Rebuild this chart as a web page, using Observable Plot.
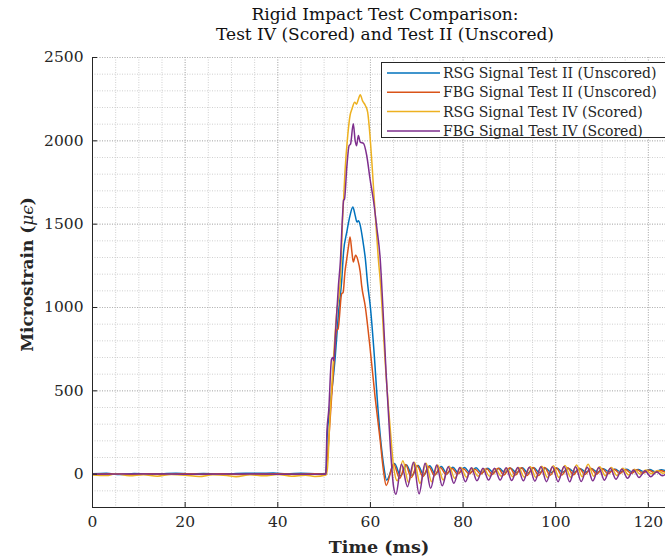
<!DOCTYPE html>
<html><head><meta charset="utf-8">
<script src="https://cdn.jsdelivr.net/npm/d3@7"></script>
<script src="https://cdn.jsdelivr.net/npm/@observablehq/plot@0.6"></script>
<style>body{margin:0;background:#fff;}</style>
</head><body><div id="chart"></div>
<script>
const seriesNames = ["RSG Signal Test II (Unscored)", "FBG Signal Test II (Unscored)", "RSG Signal Test IV (Scored)", "FBG Signal Test IV (Scored)"];
const seriesColors = ["#0072BD", "#D95319", "#EDB120", "#7E2F8E"];
const titleLines = ["Rigid Impact Test Comparison:", "Test IV (Scored) and Test II (Unscored)"];
const xLabel = "Time (ms)";
const yLabelMain = "Microstrain (";
const yLabelSym = "\u03bc\u03f5";
const xTicks = [0, 20, 40, 60, 80, 100, 120];
const yTicks = [0, 500, 1000, 1500, 2000, 2500];
const xDomain = [0, 123.7];
const yDomain = [-200, 2500];

// [time ms, microstrain]
const rsgII = [[0,2],[3,5],[6,-2],[9,4],[12,0],[15,3],[18,6],[21,1],[24,4],[27,0],[30,3],[33,6],[36,5],[39,7],[42,2],[45,5],[48,3],[50.3,2],
[50.5,60],[50.6,200],[51.3,404],[52.4,703],[53.1,965],[53.8,1163],[54.2,1333],[54.9,1453],[55.6,1553],[56.2,1603],[56.7,1553],[57.1,1513],[57.4,1520],[57.8,1493],[58.3,1413],[58.9,1293],[59.4,1140],[60.0,1000],[60.7,763],[61.7,365],[62.8,64],[63.5,-36],
[65.2,64],[66.5,-10],[67.8,55],[69.0,-8],[70.3,52],[71.5,-5],[72.8,50],[74.0,0],[75.3,46],[76.5,4],[77.8,42],[79.0,6],[80.3,40],[81.5,8],[82.8,38],[84.0,8],[85.3,36],[86.5,10],[87.8,35],[89.0,10],[90.3,36],[91.5,8],[92.8,38],[94.0,6],[95.3,38],[96.5,8],[97.8,36],[99.0,10],[100.3,35],[101.5,12],[102.8,34],[104.0,12],[105.3,33],[106.5,12],[107.8,32],[109.0,12],[110.3,32],[111.5,14],[112.8,30],[114.0,14],[115.3,30],[116.5,14],[117.8,28],[119.0,14],[120.3,28],[121.5,15],[122.8,27],[124,18]];

const fbgII = [[0,0],[4,3],[8,-2],[12,2],[16,-1],[20,3],[24,0],[28,2],[32,-2],[36,1],[40,3],[44,-1],[48,2],[50.3,0],
[50.6,60],[51.3,330],[52.0,620],[52.7,863],[53.0,870],[53.8,1083],[54.1,1090],[54.5,1213],[54.9,1293],[55.3,1373],[55.6,1423],[56.0,1333],[56.3,1273],[56.8,1313],[57.3,1283],[57.8,1213],[58.1,1133],[58.9,1003],[59.9,763],[61.0,464],[62.1,204],[62.8,24],[63.4,-68],
[65.0,62],[66.3,-25],[67.6,58],[68.8,-20],[70.1,52],[71.3,-15],[72.6,46],[73.8,-8],[75.1,40],[76.3,-2],[77.6,36],[78.8,0],[80.1,32],[81.3,2],[82.6,30],[83.8,0],[85.1,32],[86.3,-2],[87.6,35],[88.8,-5],[90.1,38],[91.3,-5],[92.6,38],[93.8,-8],[95.1,40],[96.3,-8],[97.6,40],[98.8,-6],[100.1,38],[101.3,-5],[102.6,38],[103.8,-4],[105.1,36],[106.3,-2],[107.6,35],[108.8,0],[110.1,32],[111.3,2],[112.6,30],[113.8,4],[115.1,28],[116.3,5],[117.6,26],[118.8,6],[120.1,25],[121.3,8],[122.6,22],[123.8,10]];

const rsgIV = [[0,-5],[3,-8],[5,2],[8,-10],[11,-3],[14,-12],[17,-2],[20,-6],[23,-14],[26,-4],[29,-8],[31,-15],[34,-3],[37,-10],[40,-2],[43,-12],[46,-6],[48,-14],[50.4,-5],
[50.7,30],[51.3,365],[52.0,683],[52.7,963],[53.5,1163],[54.0,1535],[54.5,1812],[55.1,2032],[55.6,2152],[56.0,2190],[56.6,2232],[57.0,2220],[57.4,2250],[57.8,2276],[58.3,2240],[58.9,2212],[59.4,2172],[59.9,2032],[60.4,1834],[61.0,1573],[61.7,1295],[62.2,1133],[63.2,665],[64.3,264],[65.0,44],[65.8,-40],
[67.0,80],[68.2,-50],[69.5,72],[70.7,-55],[72.0,65],[73.2,-45],[74.5,55],[75.7,-35],[77.0,48],[78.2,-25],[79.5,40],[80.7,-18],[82.0,35],[83.2,-12],[84.5,32],[85.7,-12],[87.0,32],[88.2,-12],[89.5,35],[90.7,-15],[92.0,40],[93.2,-18],[94.5,45],[95.7,-20],[97.0,48],[98.2,-20],[99.5,50],[100.7,-20],[102.0,52],[103.2,-18],[104.5,55],[105.7,-15],[107.0,60],[108.2,-12],[109.5,45],[110.7,-10],[112.0,40],[113.2,-8],[114.5,35],[115.7,-5],[117.0,30],[118.2,0],[119.5,25],[120.7,2],[122.0,22],[123.2,5],[124,15]];

const fbgIV = [[0,0],[10,1],[20,0],[30,1],[40,0],[50.3,0],
[50.4,5],[50.6,250],[51.0,384],[51.6,690],[51.9,700],[52.1,680],[52.4,820],[53.1,1133],[53.5,1273],[54.0,1560],[54.2,1643],[54.4,1650],[54.9,1842],[55.4,1972],[55.7,1980],[56.3,2102],[56.7,2002],[57.0,1970],[57.4,2032],[57.8,1992],[58.5,1985],[59.2,1912],[59.9,1774],[60.7,1633],[61.4,1474],[62.1,1295],[62.6,1050],[63.4,600],[64.3,164],[65.0,-76],[65.5,-120],
[66.7,60],[68.0,-75],[69.3,72],[70.5,-118],[71.8,65],[73.0,-85],[74.3,55],[75.5,-70],[76.8,45],[78.0,-55],[79.3,40],[80.5,-45],[81.8,38],[83.0,-40],[84.3,35],[85.5,-35],[86.8,35],[88.0,-35],[89.3,38],[90.5,-38],[91.8,40],[93.0,-40],[94.3,42],[95.5,-42],[96.8,45],[98.0,-45],[99.3,45],[100.5,-45],[101.8,46],[103.0,-46],[104.3,45],[105.5,-44],[106.8,42],[108.0,-40],[109.3,40],[110.5,-36],[111.8,35],[113.0,-30],[114.3,30],[115.5,-25],[116.8,25],[118.0,-20],[119.3,20],[120.5,-15],[121.8,15],[123.0,-10],[124,5]];

const allSeries = [rsgII, fbgII, rsgIV, fbgIV];
const table = [];
allSeries.forEach((arr, i) => arr.forEach(([t, v]) => table.push({t, v, s: seriesNames[i]})));

const FONT = "DejaVu Serif";
const INK = "#262626";

const plot = Plot.plot({
  width: 665, height: 558,
  marginLeft: 92, marginRight: 0, marginTop: 57, marginBottom: 51,
  x: {domain: xDomain},
  y: {domain: yDomain},
  color: {domain: seriesNames, range: seriesColors},
  style: {fontFamily: FONT, fontSize: "15px", color: INK, background: "white"},
  marks: [
    Plot.gridX(d3.range(0, 125, 5), {stroke: "#c4c4c4", strokeOpacity: 1, strokeDasharray: "1,1.5", strokeWidth: 0.8}),
    Plot.gridY(d3.range(-200, 2501, 100), {stroke: "#c4c4c4", strokeOpacity: 1, strokeDasharray: "1,1.5", strokeWidth: 0.8}),
    Plot.gridX(xTicks, {stroke: "#b0b0b0", strokeOpacity: 1, strokeDasharray: "1,1.5", strokeWidth: 0.9}),
    Plot.gridY(yTicks, {stroke: "#b0b0b0", strokeOpacity: 1, strokeDasharray: "1,1.5", strokeWidth: 0.9}),
    Plot.line(table, {x: "t", y: "v", z: "s", stroke: "s", strokeWidth: 1.5, curve: "monotone-x", clip: true}),
    Plot.ruleX([xDomain[0]], {stroke: INK, strokeWidth: 1}),
    Plot.ruleY([yDomain[0]], {stroke: INK, strokeWidth: 1}),
    Plot.axisX(xTicks, {tickSize: -5, tickPadding: 13, label: null, tickFormat: d => String(d), stroke: INK, fill: INK, fontSize: 15.5}),
    Plot.axisY(yTicks, {tickSize: -5, tickPadding: 14, label: null, tickFormat: d => String(d), stroke: INK, fill: INK, fontSize: 15.5}),
    Plot.text([xLabel], {text: d => d, frameAnchor: "bottom", lineAnchor: "middle", dy: 40, fontWeight: "bold", fontSize: 17.5, fill: INK}),
    Plot.text([yLabelMain + yLabelSym + ")"], {text: d => d, frameAnchor: "left", textAnchor: "middle", lineAnchor: "middle", rotate: -90, dx: -65, dy: -8, fontWeight: "bold", fontSize: 17, fill: INK}),
    Plot.text([titleLines.join("\n")], {text: d => d, frameAnchor: "top", textAnchor: "middle", lineAnchor: "middle", dy: -34, dx: 6, fontSize: 17, lineHeight: 1.2, fill: "#111"})
  ]
});

const svg = d3.select(plot);
// italic symbol in y label
svg.selectAll("text").filter(function() { return this.textContent === yLabelMain + yLabelSym + ")"; })
  .each(function() {
    const t = d3.select(this);
    t.text(null);
    t.append("tspan").text(yLabelMain);
    t.append("tspan").attr("font-style", "italic").attr("font-weight", "normal").text(yLabelSym);
    t.append("tspan").text(")");
  });

// legend
const lg = svg.append("g").attr("font-family", FONT).attr("font-size", 14).attr("text-anchor", "start");
lg.append("rect").attr("x", 381.5).attr("y", 62.5).attr("width", 300).attr("height", 75)
  .attr("fill", "white").attr("stroke", INK).attr("stroke-width", 1);
seriesNames.forEach((n, i) => {
  const y = 73 + i * 19.3;
  lg.append("line").attr("x1", 387).attr("x2", 440).attr("y1", y).attr("y2", y)
    .attr("stroke", seriesColors[i]).attr("stroke-width", 1.5);
  lg.append("text").attr("x", 443).attr("y", y).attr("dy", "0.35em").attr("text-anchor", "start").attr("fill", INK).text(n);
});

document.getElementById("chart").appendChild(plot);
</script>
</body></html>
